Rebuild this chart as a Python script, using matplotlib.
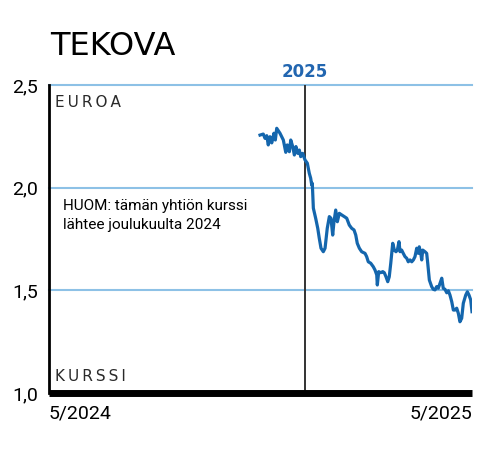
import numpy as np
import matplotlib
matplotlib.use("Agg")
import matplotlib.pyplot as plt

# days counted from 5/2024, share price in euros
days = [182.1, 184.9, 186.4, 187.9, 189.2, 190.7, 192.2, 194.1, 195.3, 196.5,
        199.3, 202.2, 204.3, 205.6, 207.4, 208.6, 210.3, 211.7, 213.1, 214.6,
        216.0, 217.2, 218.9, 220.9, 222.9, 224.6, 225.8, 226.7, 227.2, 228.1,
        230.1, 231.9, 233.2, 234.7, 236.7, 238.2, 240.1, 241.9, 243.3, 244.8,
        245.9, 247.4, 248.8, 250.5, 252.6, 254.8, 256.9, 259.1, 261.2, 263.2,
        264.7, 266.0, 267.8, 269.8, 272.7, 274.1, 275.5, 277.6, 279.8, 281.3,
        282.8, 283.3, 284.5, 286.2, 288.0, 289.3, 290.8, 292.3, 293.6, 294.9,
        296.6, 298.0, 299.4, 300.6, 302.0, 302.9, 304.3, 305.7, 307.2, 308.7,
        310.0, 311.5, 313.0, 314.4, 315.8, 317.3, 318.7, 319.5, 321.0, 321.6,
        322.5, 324.4, 325.9, 326.8, 328.2, 330.2, 331.6, 333.1, 334.5, 335.9,
        337.4, 338.9, 340.2, 341.7, 343.2, 344.6, 346.0, 347.5, 348.9, 350.3,
        351.8, 353.2, 354.6, 356.1, 357.5, 359.6, 361.0, 362.4, 363.9, 365.0]
price = [2.256, 2.261, 2.240, 2.253, 2.208, 2.248, 2.218, 2.265, 2.232, 2.289,
         2.265, 2.232, 2.172, 2.208, 2.175, 2.232, 2.200, 2.159, 2.200, 2.167,
         2.183, 2.151, 2.167, 2.135, 2.119, 2.070, 2.046, 2.013, 2.021, 1.900,
         1.851, 1.802, 1.754, 1.705, 1.688, 1.705, 1.802, 1.859, 1.851, 1.769,
         1.834, 1.891, 1.834, 1.875, 1.867, 1.859, 1.851, 1.818, 1.802, 1.794,
         1.769, 1.729, 1.705, 1.688, 1.680, 1.664, 1.639, 1.632, 1.615, 1.599,
         1.575, 1.526, 1.591, 1.586, 1.591, 1.586, 1.566, 1.542, 1.566, 1.632,
         1.729, 1.696, 1.688, 1.696, 1.737, 1.688, 1.696, 1.680, 1.664, 1.656,
         1.639, 1.648, 1.639, 1.648, 1.664, 1.705, 1.680, 1.712, 1.672, 1.648,
         1.696, 1.688, 1.680, 1.632, 1.550, 1.518, 1.505, 1.502, 1.518, 1.510,
         1.534, 1.559, 1.510, 1.505, 1.488, 1.498, 1.477, 1.445, 1.404, 1.404,
         1.413, 1.388, 1.347, 1.364, 1.437, 1.477, 1.493, 1.477, 1.453, 1.396]

year_start = 220.9
yticks = [1.0, 1.5, 2.0, 2.5]
ytick_labels = ["1,0", "1,5", "2,0", "2,5"]
xtick_pos = [0, 365]
xtick_labels = ["5/2024", "5/2025"]

blue = "#1466ad"
grid_blue = "#8dc1e6"

fig = plt.figure(figsize=(5, 4.51), dpi=100)
ax = fig.add_axes([0.098, 0.1286, 0.846, 0.683])

for yv in yticks[1:]:
    ax.axhline(yv, color=grid_blue, lw=1.5, zorder=1, clip_on=False)
ax.axvline(year_start, color="#333333", lw=1.4, zorder=2)
ax.plot(days, price, color=blue, lw=2.3, zorder=3, solid_joinstyle="round")

ax.set_xlim(0, 365)
ax.set_ylim(1.0, 2.5)
ax.set_yticks(yticks)
ax.set_yticklabels(ytick_labels, fontsize=14, family="Roboto")
ax.set_xticks(xtick_pos)
ax.set_xticklabels(xtick_labels, fontsize=14, family="Roboto")
ax.get_xticklabels()[0].set_ha("left")
ax.get_xticklabels()[1].set_ha("right")
ax.tick_params(length=0)
ax.tick_params(axis="y", pad=8)
ax.tick_params(axis="x", pad=8)

for s in ["top", "right"]:
    ax.spines[s].set_visible(False)
ax.spines["left"].set_linewidth(2)
ax.spines["bottom"].set_linewidth(5)
ax.spines["bottom"].set_capstyle("butt")

thin = "\u2009"
ax.text(0.014, 0.967, thin.join("EUROA"), transform=ax.transAxes, fontsize=11,
        family="DejaVu Sans", va="top", ha="left", color="#2a2a2a")
ax.text(0.014, 0.029, thin.join("KURSSI"), transform=ax.transAxes, fontsize=11,
        family="DejaVu Sans", va="bottom", ha="left", color="#2a2a2a")
ax.text(0.033, 0.63, "HUOM: tämän yhtiön kurssi\nlähtee joulukuulta 2024",
        transform=ax.transAxes, fontsize=11, family="Roboto", va="top",
        ha="left", linespacing=1.45)

fig.text(0.1, 0.878, "TEKOVA", fontsize=23, family="DejaVu Sans", va="baseline", ha="left")
fig.text(305 / 500, 0.829, "2025", fontsize=12, weight="bold", color="#2266b0",
         family="DejaVu Sans", va="baseline", ha="center")

fig.savefig("out.png", dpi=100)
